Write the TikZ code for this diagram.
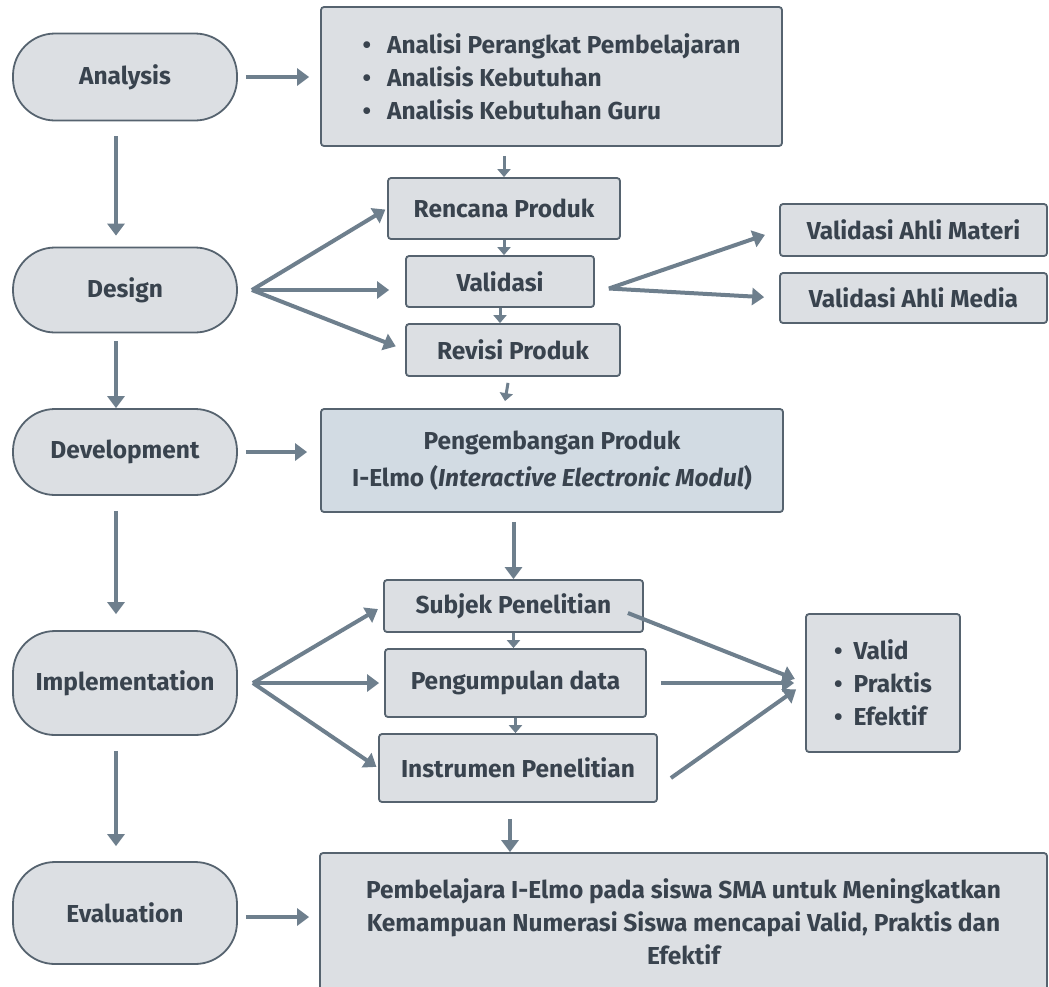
\documentclass[tikz,border=0pt]{standalone}
\usepackage{fontspec}
\setmainfont{Fira Sans}
\usetikzlibrary{arrows.meta,positioning,calc}
\definecolor{adfill}{HTML}{DCDFE3}
\definecolor{adline}{HTML}{56636F}
\definecolor{adarrow}{HTML}{6E7F8D}
\definecolor{adtext}{HTML}{39434E}
\definecolor{devfill}{HTML}{D2DBE3}

\begin{document}
\begin{tikzpicture}[x=1pt,y=-1pt,
  font=\fontsize{24.5}{33}\selectfont\bfseries,
  phase/.style={draw=adline,fill=adfill,line width=1.8pt,rounded corners=42pt,
              minimum width=224pt,inner sep=0pt,text=adtext},
  box/.style={draw=adline,fill=adfill,line width=1.8pt,rounded corners=3pt,
              inner sep=0pt,align=center,text=adtext},
  listbox/.style={box,align=left},
  flow/.style={draw=adarrow,line width=4pt,-{Triangle[length=12pt,width=17pt]}},
  link/.style={draw=adarrow,line width=3pt,-{Triangle[length=8pt,width=13pt]}}]

\useasboundingbox (0,0) rectangle (1049,986);

% ---------------- left column: the ADDIE phases -----------------------------
\node[phase,minimum height=87pt]  (ana) at (125,77)  {Analysis};
\node[phase,minimum height=85pt]  (des) at (125,290) {Design};
\node[phase,minimum height=86pt]  (dev) at (125,452) {Development};
\node[phase,minimum height=104pt] (imp) at (125,683) {Implementation};
\node[phase,minimum height=102pt] (eva) at (125,913) {Evaluation};

% ---------------- analysis -------------------------------------------------
\node[listbox,minimum width=461pt,minimum height=139pt] (analist) at (551.5,76.5)
  {\textbullet\hspace{16pt}Analisi Perangkat Pembelajaran\\
   \textbullet\hspace{16pt}Analisis Kebutuhan\\
   \textbullet\hspace{16pt}Analisis Kebutuhan Guru};

% ---------------- design ---------------------------------------------------
\node[box,minimum width=232pt,minimum height=61pt] (renc) at (504,208.5) {Rencana Produk};
\node[box,minimum width=188pt,minimum height=51pt] (vali) at (500,281.5) {Validasi};
\node[box,minimum width=214pt,minimum height=52pt] (revi) at (513,350)   {Revisi Produk};
\node[box,minimum width=267pt,minimum height=52pt] (vmat) at (913.5,230) {Validasi Ahli Materi};
\node[box,minimum width=267pt,minimum height=50pt] (vmed) at (913.5,298) {Validasi Ahli Media};

% ---------------- development ----------------------------------------------
\node[box,fill=devfill,minimum width=462pt,minimum height=103pt] (produk) at (552,460.5)
  {Pengembangan Produk\\[4pt]I-Elmo (\textit{Interactive Electronic Modul})};

% ---------------- implementation -------------------------------------------
\node[box,minimum width=259pt,minimum height=52pt] (subj) at (513.5,606) {Subjek Penelitian};
\node[box,minimum width=261pt,minimum height=68pt] (kump) at (515.5,683) {Pengumpulan data};
\node[box,minimum width=278pt,minimum height=68pt] (inst) at (518,768)   {Instrumen Penelitian};
\node[listbox,minimum width=154pt,minimum height=138pt] (hasil) at (883,683)
  {\textbullet\hspace{11pt}Valid\\
   \textbullet\hspace{11pt}Praktis\\
   \textbullet\hspace{11pt}Efektif};

% ---------------- evaluation -----------------------------------------------
\node[box,minimum width=727pt,minimum height=138pt] (akhir) at (683.5,922)
  {Pembelajara I-Elmo pada siswa SMA untuk Meningkatkan\\
   Kemampuan Numerasi Siswa mencapai Valid, Praktis dan\\
   Efektif};

% ---------------- fan points -----------------------------------------------
\coordinate (desfan) at ([xshift=14pt]des.east);
\coordinate (valfan) at ([xshift=14pt,yshift=-7pt]vali.east);
\coordinate (impfan) at ([xshift=15pt]imp.east);
\coordinate (subjout) at ([xshift=-16pt,yshift=-7pt]subj.east);
\coordinate (kumpout) at ([xshift=14pt]kump.east);
\coordinate (instout) at ([xshift=13pt,yshift=-10pt]inst.east);

% ---------------- phase to phase -------------------------------------------
\draw[flow,shorten <=15pt,shorten >=11pt] ([xshift=-9pt]ana.south) -- ([xshift=-9pt]des.north);
\draw[flow,shorten <=8pt,shorten >=0pt]   ([xshift=-9pt]des.south) -- ([xshift=-9pt]dev.north);
\draw[flow,shorten <=15pt,shorten >=16pt] ([xshift=-9pt]dev.south) -- ([xshift=-9pt]imp.north);
\draw[flow,shorten <=15pt,shorten >=15pt] ([xshift=-9pt]imp.south) -- ([xshift=-9pt]eva.north);

% ---------------- phase to content -----------------------------------------
\draw[flow,shorten <=8pt,shorten >=11pt] (ana.east) -- (analist.west |- ana.east);
\draw[flow,shorten <=8pt,shorten >=13pt] (dev.east) -- (produk.west |- dev.east);
\draw[flow,shorten <=8pt,shorten >=10pt] ([yshift=-4pt]eva.east) -- ([yshift=-4pt]akhir.west |- eva.east);

\draw[flow,shorten >=2pt]  (desfan) -- (renc.west);
\draw[flow,shorten >=16pt] (desfan) -- (desfan -| vali.west);
\draw[flow,shorten >=10pt] (desfan) -- (revi.west);
\draw[flow,shorten >=15pt] (valfan) -- (vmat.west);
\draw[flow,shorten >=15pt] (valfan) -- (vmed.west);

\draw[flow,shorten >=6pt] (impfan) -- (subj.west);
\draw[flow,shorten >=5pt] (impfan) -- (kump.west);
\draw[flow,shorten >=2pt] (impfan) -- (inst.west);
\draw[flow,shorten >=11pt] (subjout) -- (hasil.west);
\draw[flow,shorten >=11pt] (kumpout) -- (hasil.west);
\draw[flow,shorten >=11pt] (instout) -- (hasil.west);

% ---------------- box to box -----------------------------------------------
\draw[link] ([yshift=-9pt]analist.south -| renc.north) -- (renc.north);
\draw[link] (renc.south) -- (renc.south |- vali.north);
\draw[link] (vali.south) -- (vali.south |- revi.north);
\draw[link] ([xshift=-5pt,yshift=-6pt]revi.south) -- ([xshift=-8pt,yshift=7pt]revi.south |- produk.north);
\draw[flow,shorten <=9pt] (subj.north |- produk.south) -- (subj.north);
\draw[link] (subj.south) -- (subj.south |- kump.north);
\draw[link] (kump.south) -- (kump.south |- inst.north);
\draw[flow,shorten <=16pt] ([xshift=-8pt]inst.south) -- ([xshift=-8pt]inst.south |- akhir.north);

\end{tikzpicture}
\end{document}
